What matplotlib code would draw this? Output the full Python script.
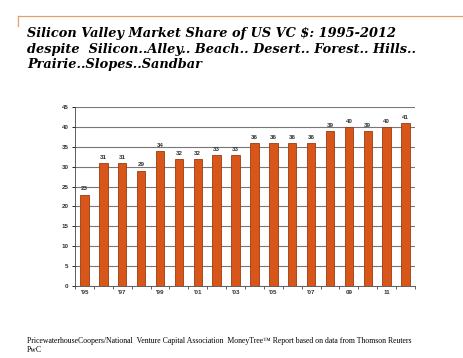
import matplotlib.pyplot as plt
from matplotlib.lines import Line2D

# Silicon Valley share of US VC dollars, 1995-2012
years = list(range(1995, 2013))
share = [23, 31, 31, 29, 34, 32, 32, 33, 33, 36, 36, 36, 36, 39, 40, 39, 40, 41]
tick_labels = ["'95", "", "'97", "", "'99", "", "'01", "", "'03", "",
               "'05", "", "'07", "", "09", "", "11", ""]

fig = plt.figure(figsize=(4.64, 3.58), dpi=100)
fig.patch.set_facecolor('white')

# slide decoration: thin orange rule at top
fig.add_artist(Line2D([18 / 464, 1.0], [1 - 16 / 358, 1 - 16 / 358],
                      color='#E3A06A', linewidth=0.9))
fig.add_artist(Line2D([18 / 464, 18 / 464], [1 - 16 / 358, 1 - 26 / 358],
                      color='#E3A06A', linewidth=0.9))

title_lines = ["Silicon Valley Market Share of US VC $: 1995-2012",
               "despite  Silicon..Alley.. Beach.. Desert.. Forest.. Hills..",
               "Prairie..Slopes..Sandbar"]
for i, line in enumerate(title_lines):
    fig.text(27 / 464, 1 - (37 + i * 15.5) / 358, line, fontsize=9.3,
             family='DejaVu Serif', weight='bold', style='italic',
             ha='left', va='baseline')

ax = fig.add_axes([75 / 464, 1 - 286 / 358, 340 / 464, (286 - 107) / 358])
x = list(range(len(years)))
bars = ax.bar(x, share, width=0.45, color='#D9561B', edgecolor='#9C3A0E',
              linewidth=0.6, zorder=3)
for xi, v in zip(x, share):
    ax.text(xi, v + 0.8, str(v), ha='center', va='bottom', fontsize=4.5,
            family='Liberation Sans', weight='bold', color='#333333')

ax.set_xlim(-0.5, len(years) - 0.5)
ax.set_ylim(0, 45)
ax.set_yticks(range(0, 46, 5))
ax.yaxis.grid(True, color='#777777', linewidth=0.8, zorder=0)
ax.set_xticks(x)
ax.set_xticklabels(tick_labels)
ax.set_xticks([i + 0.5 for i in range(-1, len(years))], minor=True)
ax.tick_params(axis='x', which='major', length=0, labelsize=4.5, pad=3)
ax.tick_params(axis='x', which='minor', length=2.5, width=0.6, color='#444444')
ax.tick_params(axis='y', length=2.5, width=0.6, labelsize=4.5, pad=2)
for lab in ax.get_xticklabels() + ax.get_yticklabels():
    lab.set_family('Liberation Sans')
    lab.set_weight('bold')
    lab.set_color('#333333')
for side in ['top', 'right']:
    ax.spines[side].set_visible(False)
for side in ['left', 'bottom']:
    ax.spines[side].set_color('#444444')
    ax.spines[side].set_linewidth(0.6)

fig.text(27 / 464, 1 - 343 / 358,
         "PricewaterhouseCoopers/National  Venture Capital Association  MoneyTree\u2122 Report based on data from Thomson Reuters",
         fontsize=5.6, family='Liberation Serif', ha='left', va='baseline')
fig.text(27 / 464, 1 - 352 / 358, "PwC", fontsize=5.6,
         family='Liberation Serif', ha='left', va='baseline')

fig.savefig('out.png', dpi=100)
